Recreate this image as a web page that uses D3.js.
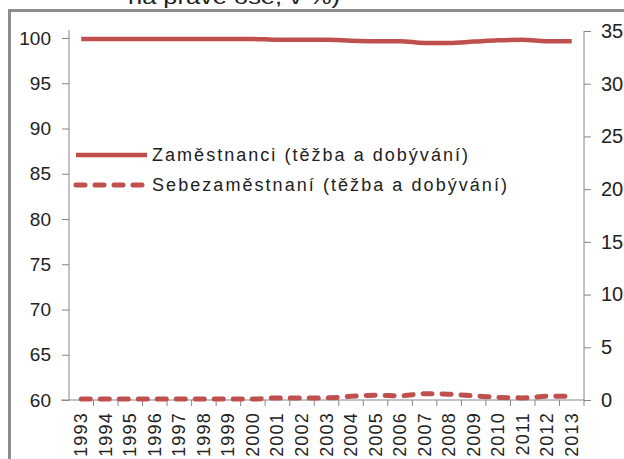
<html>
  <head>
    <script src="https://cdnjs.cloudflare.com/ajax/libs/d3/7.8.5/d3.min.js"></script>
    <style>
      body { margin: 0; background: #fff; }
      svg { display: block; }
      text { font-family: "Liberation Sans", Arial, sans-serif; fill: #222; }
    </style>
  </head>
  <body>
    <svg width="624" height="459"></svg>
    <script>
      const years = ["1993","1994","1995","1996","1997","1998","1999","2000","2001","2002","2003",
                     "2004","2005","2006","2007","2008","2009","2010","2011","2012","2013"];
      // zamestnanci - leva osa
      const employees = [99.9,99.9,99.9,99.9,99.9,99.9,99.9,99.9,99.8,99.8,99.8,
                         99.7,99.65,99.65,99.45,99.45,99.6,99.75,99.8,99.65,99.65];
      // sebezamestnani - prava osa, v %
      const selfEmployed = [0.1,0.1,0.1,0.1,0.1,0.1,0.1,0.1,0.2,0.2,0.2,
                            0.35,0.45,0.4,0.6,0.55,0.4,0.25,0.2,0.35,0.35];
      const leftTicks = [60,65,70,75,80,85,90,95,100];
      const rightTicks = [0,5,10,15,20,25,30,35];
      const seriesNames = ["Zaměstnanci (těžba a dobývání)", "Sebezaměstnaní (těžba a dobývání)"];
      const titleTail = "na pravé ose, v %)";

      const red = "#C0504D";
      const axisColor = "#868686";
      const svg = d3.select("svg");

      // outer frame (extends past the picture)
      svg.append("rect")
        .attr("x", 9.5).attr("y", 10.5)
        .attr("width", 700).attr("height", 600)
        .attr("fill", "none").attr("stroke", "#8c8c8c").attr("stroke-width", 3);

      // cut-off title
      svg.append("text")
        .attr("x", 128).attr("y", 4)
        .attr("textLength", 212).attr("lengthAdjust", "spacingAndGlyphs")
        .style("font-size", "20px").attr("fill", "#111")
        .text(titleTail);

      const x = d3.scaleBand().domain(years).range([69, 584]);
      const yL = d3.scaleLinear().domain([60, 100]).range([400, 38]);
      const yR = d3.scaleLinear().domain([0, 35]).range([400, 31]);

      // left axis
      const gL = svg.append("g").attr("transform", "translate(69,0)")
        .call(d3.axisLeft(yL).tickValues(leftTicks).tickSize(7).tickPadding(11));
      gL.select(".domain").attr("d", "M0,30V400");
      // right axis
      const gR = svg.append("g").attr("transform", "translate(584,0)")
        .call(d3.axisRight(yR).tickValues(rightTicks).tickSize(7).tickPadding(10));
      gR.select(".domain").attr("d", "M0,31V400");
      // bottom axis, ticks on category boundaries
      const gB = svg.append("g").attr("transform", "translate(0,400)");
      gB.append("path").attr("d", "M61,0H584").attr("stroke", axisColor).attr("fill", "none");
      gB.selectAll("line.b").data(years)
        .join("line")
        .attr("x1", d => x(d) + x.bandwidth())
        .attr("x2", d => x(d) + x.bandwidth())
        .attr("y1", 0).attr("y2", 6)
        .attr("stroke", axisColor);
      gB.selectAll("text").data(years).join("text")
        .attr("transform", d => `translate(${x(d) + x.bandwidth() / 2 + 6},12) rotate(-90)`)
        .attr("text-anchor", "end")
        .style("font-size", "18px")
        .style("letter-spacing", "1.2px")
        .text(d => d);

      [gL, gR].forEach(g => {
        g.selectAll(".domain, line").attr("stroke", axisColor);
        g.selectAll("text").style("font-size", "19px").attr("fill", "#222");
      });
      gR.selectAll("text").style("font-size", "20px");

      const cx = d => x(d) + x.bandwidth() / 2;
      const lineL = d3.line().x((d, i) => cx(years[i])).y(d => yL(d)).curve(d3.curveMonotoneX);
      const lineR = d3.line().x((d, i) => cx(years[i])).y(d => yR(d)).curve(d3.curveMonotoneX);

      svg.append("path").attr("d", lineL(employees))
        .attr("fill", "none").attr("stroke", red).attr("stroke-width", 4.5);
      svg.append("path").attr("d", lineR(selfEmployed))
        .attr("fill", "none").attr("stroke", red).attr("stroke-width", 5)
        .attr("stroke-dasharray", "9,10").attr("stroke-linecap", "round");

      // legend
      const legendWidths = [316, 355];
      const legend = svg.append("g");
      seriesNames.forEach((name, i) => {
        const ly = 155 + i * 30;
        legend.append("line")
          .attr("x1", 76).attr("x2", 147).attr("y1", ly).attr("y2", ly)
          .attr("stroke", red).attr("stroke-width", i ? 5 : 4.5)
          .attr("stroke-dasharray", i ? "9,10" : null)
          .attr("stroke-linecap", i ? "round" : "butt");
        legend.append("text")
          .attr("x", 152).attr("y", ly + 6)
          .attr("textLength", legendWidths[i]).attr("lengthAdjust", "spacing")
          .style("font-size", "18px")
          .text(name);
      });
    </script>
  </body>
</html>
